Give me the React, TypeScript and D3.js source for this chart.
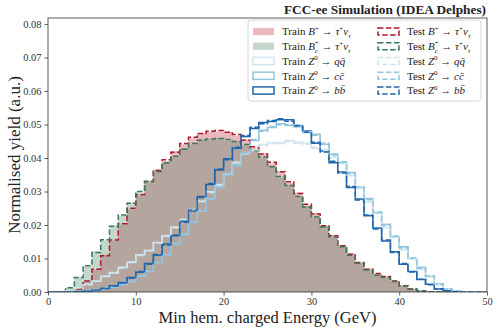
import React, { useEffect, useRef } from 'react';
import * as d3 from 'd3';

// 1 GeV bins from 0 to 50
const binEdges = d3.range(0, 51, 1);

const trainBu = [0, 0, 0.0003, 0.0011, 0.0031, 0.0066, 0.0111, 0.0152, 0.0201, 0.0247, 0.0288, 0.0327, 0.0366, 0.0391, 0.0421, 0.0441, 0.0459, 0.0475, 0.0478, 0.0479, 0.0478, 0.0467, 0.0455, 0.0431, 0.0414, 0.0384, 0.0361, 0.0326, 0.0297, 0.0259, 0.0236, 0.0196, 0.0171, 0.0136, 0.0115, 0.0086, 0.0070, 0.0053, 0.0047, 0.0031, 0.0020, 0.0008, 0.0004, 0.0001, 0, 0, 0, 0, 0, 0];
const testBu = [0, 0, 0.0004, 0.0009, 0.0033, 0.0068, 0.0108, 0.0155, 0.0204, 0.025, 0.029, 0.033, 0.0363, 0.0395, 0.0417, 0.0443, 0.0462, 0.0473, 0.048, 0.0482, 0.0477, 0.047, 0.0453, 0.0434, 0.0412, 0.0387, 0.0359, 0.0329, 0.0294, 0.0262, 0.0233, 0.0198, 0.0168, 0.0138, 0.0113, 0.0088, 0.0068, 0.0055, 0.0046, 0.0033, 0.0019, 0.0009, 0.0004, 0.0001, 0, 0, 0, 0, 0, 0];
const trainBc = [0, 0.0002, 0.0012, 0.0045, 0.0076, 0.0121, 0.0154, 0.0198, 0.0228, 0.0268, 0.0297, 0.0333, 0.0358, 0.0387, 0.0402, 0.0429, 0.044, 0.0455, 0.0455, 0.046, 0.0452, 0.0451, 0.0437, 0.0425, 0.04, 0.0377, 0.0342, 0.032, 0.0283, 0.0256, 0.0222, 0.0196, 0.0162, 0.0137, 0.0108, 0.0088, 0.0064, 0.0052, 0.0041, 0.0032, 0.0017, 0.001, 0.0003, 0.0001, 0, 0, 0, 0, 0, 0];
const testBc = [0, 0.0001, 0.0013, 0.0043, 0.0078, 0.0118, 0.0156, 0.0196, 0.023, 0.0265, 0.03, 0.033, 0.036, 0.0385, 0.0405, 0.0426, 0.0443, 0.0453, 0.0457, 0.0458, 0.0455, 0.0449, 0.044, 0.0422, 0.0403, 0.0374, 0.0345, 0.0318, 0.0285, 0.0254, 0.0224, 0.0194, 0.0164, 0.0135, 0.011, 0.0086, 0.0066, 0.005, 0.0043, 0.0031, 0.0018, 0.0009, 0.0004, 0.0001, 0, 0, 0, 0, 0, 0];
const trainQQ = [0, 0.0001, 0.0005, 0.0011, 0.0023, 0.0032, 0.0047, 0.0057, 0.0074, 0.0088, 0.0111, 0.0123, 0.0148, 0.0167, 0.0194, 0.0215, 0.0246, 0.027, 0.0299, 0.0319, 0.0353, 0.0385, 0.0415, 0.0422, 0.044, 0.0446, 0.0443, 0.0452, 0.0445, 0.0444, 0.0429, 0.0425, 0.0401, 0.0386, 0.0347, 0.0314, 0.0269, 0.0237, 0.0192, 0.0166, 0.0126, 0.0101, 0.0068, 0.0047, 0.0022, 0.0009, 0.0003, 0.0001, 0, 0];
const testQQ = [0, 0.0001, 0.0004, 0.0012, 0.0022, 0.0033, 0.0046, 0.0058, 0.0072, 0.009, 0.0109, 0.0125, 0.0146, 0.0169, 0.0192, 0.0217, 0.0244, 0.0272, 0.0297, 0.0321, 0.035, 0.0388, 0.0412, 0.0425, 0.0437, 0.0443, 0.0446, 0.0449, 0.0448, 0.0441, 0.0432, 0.0422, 0.0404, 0.0383, 0.035, 0.0311, 0.0272, 0.0234, 0.0195, 0.0163, 0.0129, 0.0099, 0.007, 0.0046, 0.0023, 0.0008, 0.0003, 0.0001, 0, 0];
const trainCC = [0, 0, 0.0001, 0.0002, 0.0005, 0.0006, 0.0011, 0.0014, 0.0023, 0.0031, 0.0047, 0.0061, 0.0089, 0.0111, 0.0145, 0.0172, 0.021, 0.0241, 0.0279, 0.0312, 0.0352, 0.0378, 0.0417, 0.0452, 0.0483, 0.0491, 0.0502, 0.0497, 0.0497, 0.0476, 0.0471, 0.0441, 0.0412, 0.0386, 0.0357, 0.0311, 0.0279, 0.0236, 0.0202, 0.0164, 0.0135, 0.0099, 0.0074, 0.0046, 0.0025, 0.0009, 0.0003, 0.0001, 0, 0];
const testCC = [0, 0, 0.0001, 0.0002, 0.0004, 0.0007, 0.001, 0.0015, 0.0022, 0.0032, 0.0046, 0.0063, 0.0087, 0.0113, 0.0143, 0.0174, 0.0208, 0.0243, 0.0277, 0.0315, 0.0349, 0.0381, 0.0414, 0.0455, 0.048, 0.0494, 0.0499, 0.05, 0.0494, 0.0479, 0.0468, 0.0444, 0.0409, 0.0389, 0.0354, 0.0314, 0.0276, 0.0239, 0.0199, 0.0167, 0.0132, 0.0102, 0.0072, 0.0048, 0.0024, 0.0008, 0.0003, 0.0001, 0, 0];
const trainBB = [0, 0, 0, 0.0001, 0.0003, 0.0006, 0.001, 0.0019, 0.0027, 0.0043, 0.0059, 0.0085, 0.011, 0.0143, 0.0168, 0.0211, 0.0242, 0.0285, 0.0321, 0.0364, 0.0398, 0.0429, 0.0464, 0.0488, 0.0506, 0.0509, 0.0514, 0.0514, 0.0494, 0.0481, 0.0444, 0.0421, 0.0386, 0.0358, 0.0312, 0.0278, 0.0228, 0.0191, 0.0152, 0.012, 0.0083, 0.0061, 0.0037, 0.0023, 0.0009, 0.0004, 0.0001, 0, 0, 0];
const testBB = [0, 0, 0, 0.0001, 0.0002, 0.0005, 0.0011, 0.0018, 0.0028, 0.0041, 0.0061, 0.0083, 0.0112, 0.014, 0.017, 0.0208, 0.0245, 0.0282, 0.0324, 0.0367, 0.0395, 0.0432, 0.0467, 0.0492, 0.0502, 0.0512, 0.0517, 0.051, 0.0497, 0.0477, 0.0447, 0.0418, 0.039, 0.0355, 0.0315, 0.0275, 0.023, 0.0188, 0.0155, 0.0118, 0.0085, 0.006, 0.0038, 0.0022, 0.001, 0.0004, 0.0001, 0, 0, 0];

const xTicks = [0, 10, 20, 30, 40, 50];
const yTicks = [0, 0.01, 0.02, 0.03, 0.04, 0.05, 0.06, 0.07, 0.08];

const RED = '#b2182b', GREEN = '#3b7a57', BLUE_B = '#2166ac', BLUE_C = '#92c5de', BLUE_Q = '#d1e5f0';
const FONT = '"Liberation Serif", "DejaVu Serif", serif';

type Seg = { t: string, it?: boolean, sup?: string, sub?: string };

// legend entries: kind fill / line / dash
const legendCol1 = [
    { kind: 'fill', color: RED, label: 'Train', proc: 'Bu' },
    { kind: 'fill', color: GREEN, label: 'Train', proc: 'Bc' },
    { kind: 'line', color: BLUE_Q, label: 'Train', proc: 'qq' },
    { kind: 'line', color: BLUE_C, label: 'Train', proc: 'cc' },
    { kind: 'line', color: BLUE_B, label: 'Train', proc: 'bb' }
];
const legendCol2 = [
    { kind: 'dash', color: RED, label: 'Test', proc: 'Bu' },
    { kind: 'dash', color: GREEN, label: 'Test', proc: 'Bc' },
    { kind: 'dash', color: BLUE_Q, label: 'Test', proc: 'qq' },
    { kind: 'dash', color: BLUE_C, label: 'Test', proc: 'cc' },
    { kind: 'dash', color: BLUE_B, label: 'Test', proc: 'bb' }
];

function procText(proc: string): Seg[] {
    const tau: Seg[] = [{ t: ' \u2192 ' }, { t: '\u03c4', it: true, sup: '+' }, { t: '\u03bd', it: true, sub: '\u03c4' }];
    if (proc === 'Bu') return [{ t: 'B', it: true, sup: '+' }, ...tau];
    if (proc === 'Bc') return [{ t: 'B', it: true, sup: '+', sub: 'c' }, ...tau];
    const q = proc[0];
    return [{ t: 'Z', it: true, sup: '0' }, { t: ' \u2192 ' }, { t: q, it: true }, { t: q + '\u0304', it: true }];
}

export default function App() {
    const ref = useRef<SVGSVGElement>(null);
    useEffect(() => {
        drawChart(ref.current);
    }, []);
    return <svg ref={ref} width={498} height={332} style={{ position: 'absolute', left: 0, top: 0, background: '#fff' }} />;
}

function drawChart(el: SVGSVGElement | null) {
    if (!el) return;
    const svg = d3.select(el);
    svg.selectAll('*').remove();

    const left = 48, right = 487, top = 18, bottom = 292;
    const x = d3.scaleLinear().domain([0, 50]).range([left, right]);
    const y = d3.scaleLinear().domain([0, 0.0818]).range([bottom, top]);

    svg.append('defs').append('clipPath').attr('id', 'plot-clip')
        .append('rect').attr('x', left).attr('y', top).attr('width', right - left).attr('height', bottom - top);

    const plot = svg.append('g').attr('clip-path', 'url(#plot-clip)');

    const stepLine = d3.line<[number, number]>()
        .x(d => x(d[0]))
        .y(d => y(d[1]));

    function stepPoints(vals: number[]): [number, number][] {
        const pts: [number, number][] = [[binEdges[0], 0]];
        vals.forEach((v, i) => {
            pts.push([binEdges[i], v], [binEdges[i + 1], v]);
        });
        pts.push([binEdges[binEdges.length - 1], 0]);
        return pts;
    }

    // train, filled
    [[trainBu, RED], [trainBc, GREEN]].forEach(([vals, color]) => {
        plot.append('path')
            .attr('d', stepLine(stepPoints(vals as number[])) + 'Z')
            .attr('fill', color as string)
            .attr('fill-opacity', 0.3)
            .attr('stroke', 'none');
    });

    // train, solid steps
    [[trainQQ, BLUE_Q], [trainCC, BLUE_C], [trainBB, BLUE_B]].forEach(([vals, color]) => {
        plot.append('path')
            .attr('d', stepLine(stepPoints(vals as number[])))
            .attr('fill', 'none')
            .attr('stroke', color as string)
            .attr('stroke-width', 1.5);
    });

    // test, dashed steps
    [[testBu, RED], [testBc, GREEN], [testQQ, BLUE_Q], [testCC, BLUE_C], [testBB, BLUE_B]].forEach(([vals, color]) => {
        plot.append('path')
            .attr('d', stepLine(stepPoints(vals as number[])))
            .attr('fill', 'none')
            .attr('stroke', color as string)
            .attr('stroke-width', 1.5)
            .attr('stroke-dasharray', '5.5,2.4');
    });

    // axes
    const xAxis = svg.append('g')
        .attr('transform', `translate(0,${bottom})`)
        .call(d3.axisBottom(x).tickValues(xTicks).tickSize(3.5).tickPadding(2).tickFormat(d3.format('d')));
    const yAxis = svg.append('g')
        .attr('transform', `translate(${left},0)`)
        .call(d3.axisLeft(y).tickValues(yTicks).tickSize(3.5).tickPadding(3).tickFormat(d3.format('.2f')));
    [xAxis, yAxis].forEach(ax => {
        ax.select('.domain').remove();
        ax.selectAll('line').attr('stroke', '#333').attr('stroke-width', 0.8);
        ax.selectAll('text').attr('fill', '#333').style('font-family', FONT).style('font-size', '10.5px');
    });

    svg.append('rect')
        .attr('x', left).attr('y', top).attr('width', right - left).attr('height', bottom - top)
        .attr('fill', 'none').attr('stroke', '#333').attr('stroke-width', 0.8);

    svg.append('text')
        .attr('x', (left + right) / 2).attr('y', 322.5)
        .attr('text-anchor', 'middle')
        .style('font-family', FONT).style('font-size', '16.5px').attr('fill', '#222')
        .text('Min hem. charged Energy (GeV)');

    svg.append('text')
        .attr('transform', `translate(19.5,${(top + bottom) / 2}) rotate(-90)`)
        .attr('text-anchor', 'middle')
        .style('font-family', FONT).style('font-size', '17px').attr('fill', '#222')
        .text('Normalised yield (a.u.)');

    svg.append('text')
        .attr('x', 486).attr('y', 14)
        .attr('text-anchor', 'end')
        .style('font-family', FONT).style('font-size', '13.3px').style('font-weight', 'bold').attr('fill', '#222')
        .text('FCC-ee Simulation (IDEA Delphes)');

    addLegend({ svg });
}

function addLegend({ svg }: { svg: d3.Selection<SVGSVGElement, unknown, null, undefined> }) {
    const lg = svg.append('g');
    lg.append('rect')
        .attr('x', 248).attr('y', 20).attr('width', 233).attr('height', 81).attr('rx', 3)
        .attr('fill', '#fff').attr('fill-opacity', 0.8)
        .attr('stroke', '#ccc').attr('stroke-width', 0.8);

    const rowY = (i: number) => 31.5 + i * 14.75;
    const cols = [{ items: legendCol1, hx: 253, tx: 282 }, { items: legendCol2, hx: 378, tx: 407 }];

    cols.forEach(col => {
        col.items.forEach((item, i) => {
            const cy = rowY(i);
            const r = lg.append('rect')
                .attr('x', col.hx).attr('y', cy - 3.6).attr('width', 21).attr('height', 7.2);
            if (item.kind === 'fill') {
                r.attr('fill', item.color).attr('fill-opacity', 0.3).attr('stroke', 'none');
            } else {
                r.attr('fill', 'none').attr('stroke', item.color).attr('stroke-width', 1.5);
                if (item.kind === 'dash') r.attr('stroke-dasharray', '5.5,2.4');
            }

            const text = lg.append('text')
                .attr('x', col.tx).attr('y', cy + 3.8)
                .style('font-family', FONT).style('font-size', '11px').attr('fill', '#222');
            // baseline offset tracking so every tspan carries real text
            let shift = 0;
            const piece = (t: string, off: number, opts: { it?: boolean, small?: boolean, dx?: number } = {}) => {
                const ts = text.append('tspan').attr('dy', off - shift)
                    .style('font-style', opts.it ? 'italic' : 'normal')
                    .style('font-size', opts.small ? '7px' : '11px')
                    .text(t);
                if (opts.dx) ts.attr('dx', opts.dx);
                shift = off;
            };
            piece(item.label + ' ', 0);
            procText(item.proc).forEach(seg => {
                piece(seg.t, 0, { it: seg.it });
                if (seg.sub && seg.sup) {
                    piece(seg.sub, 3, { it: true, small: true });
                    piece(seg.sup, -5, { small: true, dx: -3.2 });
                } else if (seg.sub) {
                    piece(seg.sub, 2.5, { it: true, small: true });
                } else if (seg.sup) {
                    piece(seg.sup, -4.5, { small: true });
                }
            });
        });
    });
}
